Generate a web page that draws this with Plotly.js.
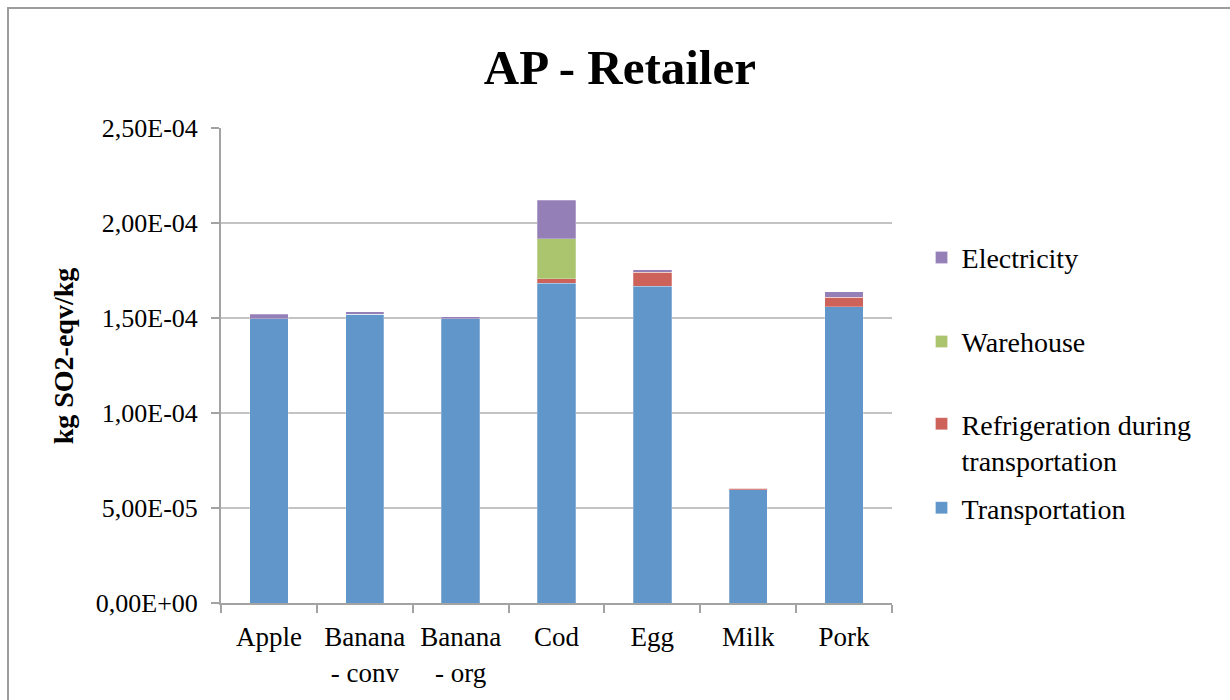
<!DOCTYPE html>
<html>
<head>
<meta charset="utf-8">
<script src="https://cdn.plot.ly/plotly-3.0.1.min.js"></script>
<style>
  html, body { margin: 0; padding: 0; background: #ffffff; overflow: hidden; }
  #wrap { position: relative; width: 1230px; height: 700px; }
  #chart { position: absolute; left: 0; top: 0; width: 1230px; height: 700px; }
  #frame {
    position: absolute; left: 7px; top: 7px; width: 1400px; height: 900px;
    border-left: 2px solid #9c9c9c; border-top: 2px solid #9c9c9c;
    pointer-events: none;
  }
</style>
</head>
<body>
<div id="wrap">
  <div id="chart"></div>
  <div id="frame"></div>
</div>
<script>
// Products at the retailer stage
const categories = ['Apple', 'Banana<br>- conv', 'Banana<br>- org', 'Cod', 'Egg', 'Milk', 'Pork'];

// Acidification potential contributions (kg SO2-eqv/kg)
const transportation = [1.495e-4, 1.521e-4, 1.497e-4, 1.683e-4, 1.667e-4, 5.95e-5, 1.559e-4];
const refrigeration  = [0, 0, 0, 2.4e-6, 7.4e-6, 1.0e-6, 5.1e-6];
const warehouse      = [0, 0, 0, 2.09e-5, 0, 0, 0];
const electricity    = [2.6e-6, 1.2e-6, 1.0e-6, 2.05e-5, 1.2e-6, 0, 2.8e-6];

// Value axis ticks
const yTickVals = [0, 5e-5, 1e-4, 1.5e-4, 2e-4, 2.5e-4];
const yTickText = ['0,00E+00', '5,00E-05', '1,00E-04', '1,50E-04', '2,00E-04', '2,50E-04'];

const FONT = 'Liberation Serif, Times New Roman, serif';
const line = { color: 'rgba(255,255,255,0.5)', width: 0.5 };

const traces = [
  { name: 'Transportation', y: transportation, color: '#6096ca', legend: 'legend4' },
  { name: 'Refrigeration during<br>transportation', y: refrigeration, color: '#cd625a', legend: 'legend3' },
  { name: 'Warehouse', y: warehouse, color: '#abc46e', legend: 'legend2' },
  { name: 'Electricity', y: electricity, color: '#957fb7', legend: 'legend' }
].map(s => ({
  type: 'bar',
  x: categories,
  y: s.y,
  name: s.name,
  legend: s.legend,
  marker: { color: s.color, line: line },
  hoverinfo: 'name+y'
}));

function legendAt(y) {
  return {
    x: 1.044, y: y, xanchor: 'left', yanchor: 'middle',
    bgcolor: 'rgba(0,0,0,0)', borderwidth: 0,
    font: { family: FONT, size: 28, color: '#000000' },
    itemwidth: 30, valign: 'top'
  };
}

const layout = {
  width: 1230,
  height: 700,
  margin: { l: 221, r: 338, t: 128, b: 97 },
  paper_bgcolor: '#ffffff',
  plot_bgcolor: '#ffffff',
  barmode: 'stack',
  bargap: 0.6,
  showlegend: true,
  title: {
    text: '<b>AP - Retailer</b>',
    font: { family: FONT, size: 49, color: '#000000' },
    x: 0.504, xanchor: 'center',
    y: 0.905, yanchor: 'middle'
  },
  xaxis: {
    type: 'category',
    showline: true, linecolor: '#a3a3a3', linewidth: 2,
    ticks: 'outside', tickson: 'boundaries', ticklen: 8, tickcolor: '#a3a3a3', tickwidth: 2,
    showgrid: false,
    ticklabelstandoff: 9,
    tickfont: { family: FONT, size: 27, color: '#000000' }
  },
  yaxis: {
    range: [0, 2.5e-4],
    tickmode: 'array', tickvals: yTickVals, ticktext: yTickText,
    showline: true, linecolor: '#a3a3a3', linewidth: 2,
    ticks: 'outside', ticklen: 8, tickcolor: '#a3a3a3', tickwidth: 2,
    showgrid: true, gridcolor: '#c3c3c3', gridwidth: 2,
    zeroline: false,
    ticklabelstandoff: 8,
    tickfont: { family: FONT, size: 26, color: '#000000' }
  },
  annotations: [{
    text: '<b>kg SO2-eqv/kg</b>',
    xref: 'paper', yref: 'paper',
    x: -0.235, y: 0.52, xanchor: 'center', yanchor: 'middle',
    textangle: -90, showarrow: false,
    font: { family: FONT, size: 28, color: '#000000' }
  }],
  legend: legendAt(0.727),
  legend2: legendAt(0.55),
  legend3: legendAt(0.339),
  legend4: legendAt(0.2)
};

Plotly.newPlot('chart', traces, layout, { displayModeBar: false, staticPlot: true });
</script>
</body>
</html>
